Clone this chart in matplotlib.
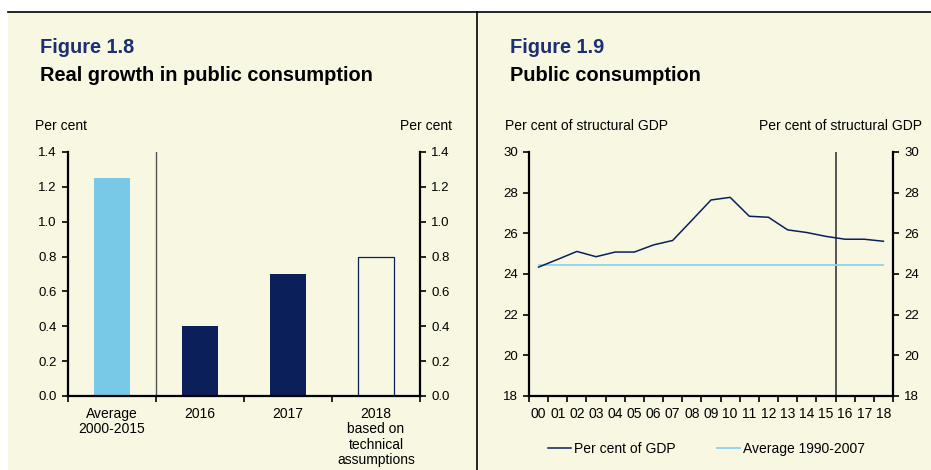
import matplotlib
matplotlib.use("Agg")
import matplotlib.pyplot as plt
from matplotlib.patches import Rectangle
from matplotlib.lines import Line2D

plt.rcParams['font.family'] = ['Liberation Sans', 'DejaVu Sans']

# ---- data ----
bar_categories = ["Average\n2000-2015", "2016", "2017", "2018\nbased on\ntechnical\nassumptions"]
bar_values = [1.25, 0.4, 0.7, 0.8]
bar_styles = ["light", "dark", "dark", "outline"]

years = ["00", "01", "02", "03", "04", "05", "06", "07", "08", "09",
         "10", "11", "12", "13", "14", "15", "16", "17", "18"]
gdp_share = [24.34, 24.72, 25.11, 24.85, 25.08, 25.08, 25.43, 25.65, 26.64, 27.64,
             27.77, 26.84, 26.79, 26.17, 26.04, 25.85, 25.71, 25.71, 25.61]
avg_1990_2007 = 24.42

left_yticks = [0.0, 0.2, 0.4, 0.6, 0.8, 1.0, 1.2, 1.4]
right_yticks = [18, 20, 22, 24, 26, 28, 30]

# ---- style ----
W, H = 931, 470
BG = "#F8F7E2"
NAVY = "#0B1F5B"
LIGHT = "#78C9E8"
AVG = "#8DD3EE"
TITLE = "#1B2F73"

fig = plt.figure(figsize=(W / 100, H / 100), dpi=100, facecolor="white")

def fx(px):
    return px / W

def fy(py):
    return 1 - py / H

# panel backgrounds and frame
fig.patches.append(Rectangle((fx(8), 0), fx(476) - fx(8), fy(12.5), transform=fig.transFigure,
                             facecolor=BG, edgecolor="none", zorder=-10))
fig.patches.append(Rectangle((fx(478), 0), 1 - fx(478), fy(12.5), transform=fig.transFigure,
                             facecolor=BG, edgecolor="none", zorder=-10))
fig.lines.append(Line2D([fx(8), 1], [fy(12), fy(12)], transform=fig.transFigure, color="black",
                        lw=1.2, zorder=-5))
fig.lines.append(Line2D([fx(477), fx(477)], [0, fy(12)], transform=fig.transFigure, color="black",
                        lw=1.2, zorder=-5))

# titles
fig.text(fx(40), fy(53), "Figure 1.8", color=TITLE, fontsize=14.4, fontweight="bold", va="baseline")
fig.text(fx(40), fy(81), "Real growth in public consumption", color="black", fontsize=14.4,
         fontweight="bold", va="baseline")
fig.text(fx(510), fy(53), "Figure 1.9", color=TITLE, fontsize=14.4, fontweight="bold", va="baseline")
fig.text(fx(510), fy(81), "Public consumption", color="black", fontsize=14.4,
         fontweight="bold", va="baseline")

fig.text(fx(35), fy(126), "Per cent", fontsize=10, va="center", ha="left")
fig.text(fx(452), fy(126), "Per cent", fontsize=10, va="center", ha="right")
fig.text(fx(505), fy(126), "Per cent of structural GDP", fontsize=10, va="center", ha="left")
fig.text(fx(922), fy(126), "Per cent of structural GDP", fontsize=10, va="center", ha="right")

def style_axes(ax):
    ax.set_facecolor("none")
    for s in ("left", "right", "bottom"):
        ax.spines[s].set_linewidth(1.6)
        ax.spines[s].set_color("black")
    ax.spines["top"].set_visible(False)
    ax.tick_params(axis="y", which="major", left=True, right=True, labelleft=True, labelright=True,
                   direction="out", length=4, width=1.2, pad=4, labelsize=9.5)
    ax.tick_params(axis="x", which="major", direction="out", length=4, width=1.2, labelbottom=False)
    ax.tick_params(axis="x", which="minor", length=0, pad=8, labelsize=10)

# ---- left chart ----
ax1 = fig.add_axes([fx(68), fy(396), fx(420) - fx(68), fy(152) - fy(396)])
style_axes(ax1)
x1 = list(range(len(bar_values)))
for xi, v, st in zip(x1, bar_values, bar_styles):
    if st == "light":
        ax1.bar(xi, v, width=0.41, color=LIGHT, zorder=2)
    elif st == "dark":
        ax1.bar(xi, v, width=0.41, color=NAVY, zorder=2)
    else:
        ax1.bar(xi, v, width=0.41, facecolor=BG, edgecolor=NAVY, linewidth=0.9, zorder=2)
ax1.axvline(0.5, color="#555555", lw=1.0, zorder=1)
ax1.set_xlim(-0.5, len(bar_values) - 0.5)
ax1.set_ylim(0, 1.4)
ax1.set_yticks(left_yticks)
ax1.set_yticklabels([f"{t:.1f}" for t in left_yticks])
ax1.set_xticks([i - 0.5 for i in range(len(bar_values) + 1)])
ax1.set_xticks(x1, minor=True)
ax1.set_xticklabels(bar_categories, minor=True, linespacing=1.12)

# ---- right chart ----
ax2 = fig.add_axes([fx(529), fy(396), fx(893) - fx(529), fy(152) - fy(396)])
style_axes(ax2)
x2 = list(range(len(years)))
l1, = ax2.plot(x2, gdp_share, color=NAVY, lw=1.1, zorder=3, label="Per cent of GDP")
l2, = ax2.plot([x2[0], x2[-1]], [avg_1990_2007, avg_1990_2007], color=AVG, lw=1.3, zorder=2,
               label="Average 1990-2007")
ax2.axvline(15.5, color="#555555", lw=1.4, zorder=1)
ax2.set_xlim(-0.5, len(years) - 0.5)
ax2.set_ylim(18, 30)
ax2.set_yticks(right_yticks)
ax2.set_xticks([i - 0.5 for i in range(len(years) + 1)])
ax2.set_xticks(x2, minor=True)
ax2.set_xticklabels(years, minor=True)

fig.legend(handles=[l1, l2], loc="center left", bbox_to_anchor=(fx(548), fy(449)),
           bbox_transform=fig.transFigure, frameon=False, ncol=2, fontsize=10,
           handlelength=1.65, handletextpad=0.2, columnspacing=3.0, borderpad=0,
           borderaxespad=0)

fig.savefig("out.png", dpi=100, facecolor="white")
